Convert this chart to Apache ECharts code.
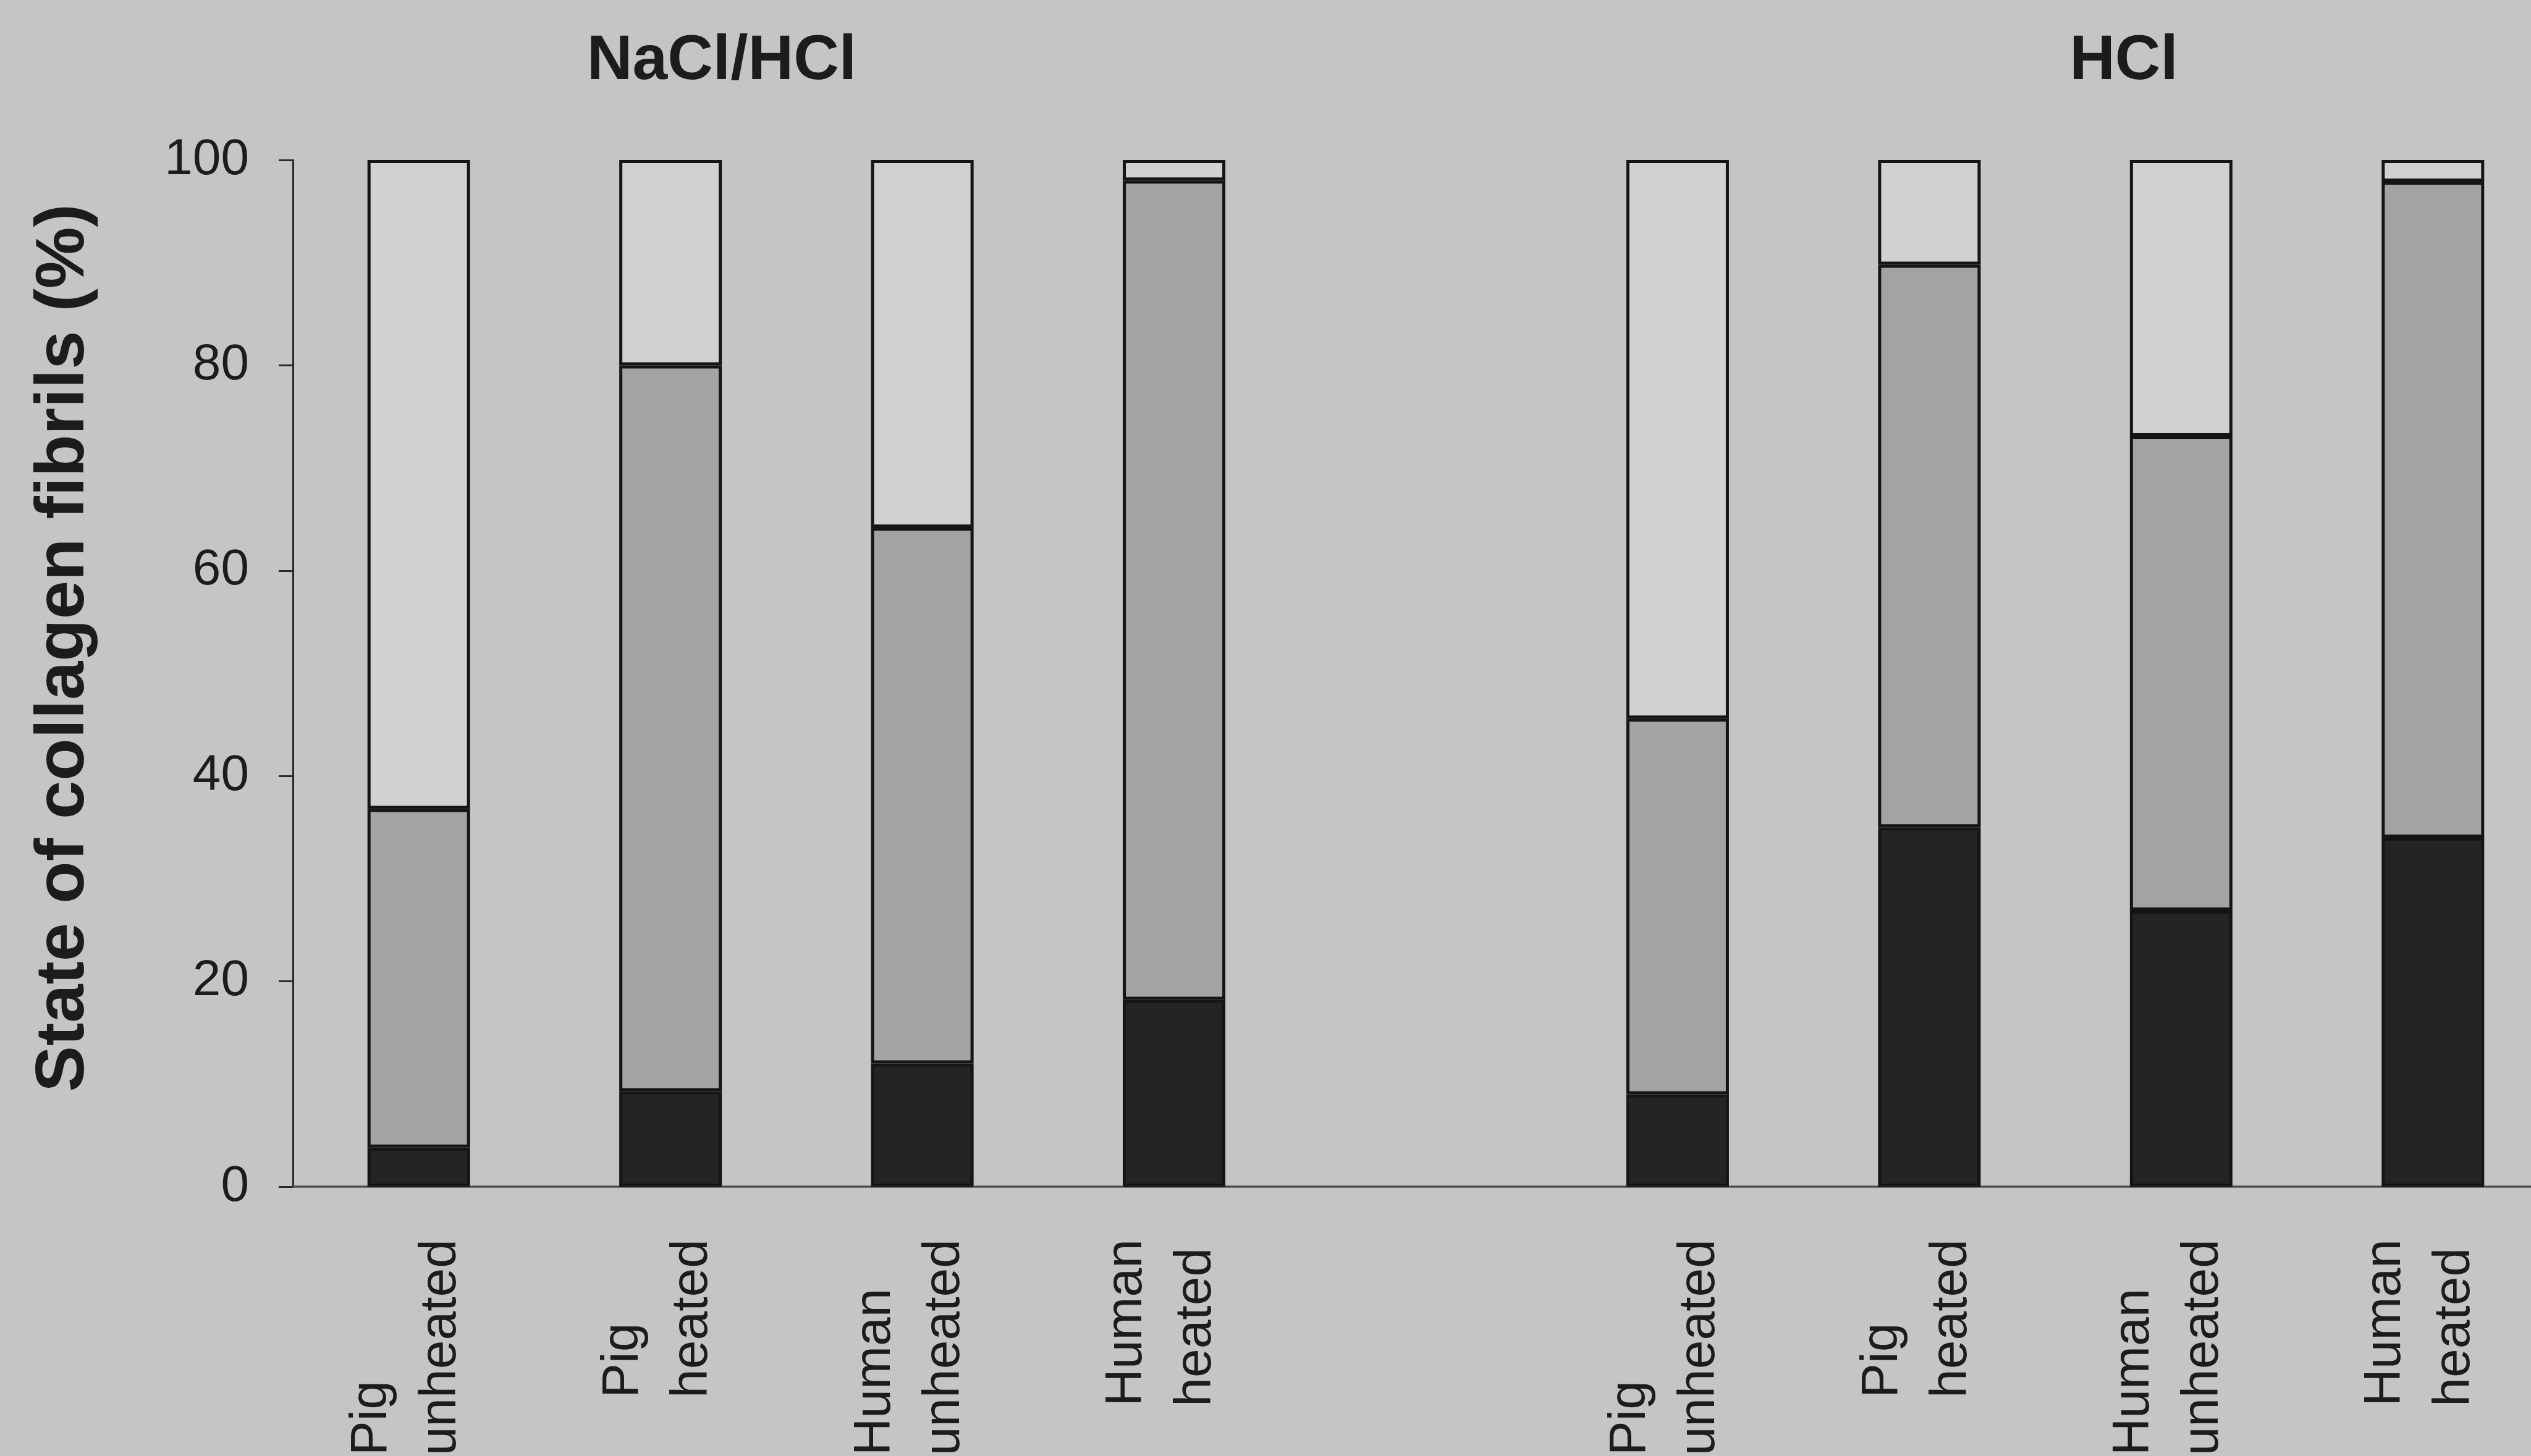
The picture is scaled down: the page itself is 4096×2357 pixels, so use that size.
<!DOCTYPE html>
<html><head><meta charset="utf-8">
<script src="https://cdn.jsdelivr.net/npm/echarts@6/dist/echarts.min.js"></script>
<style>html,body{margin:0;padding:0;background:#c5c5c4}#c{width:4096px;height:2357px}</style>
</head><body><div id="c"></div>
<script>
// ---- data ----
const categories = ['Pig\nunheated','Pig\nheated','Human\nunheated','Human\nheated','','Pig\nunheated','Pig\nheated','Human\nunheated','Human\nheated'];
const groupTitles = ['NaCl/HCl', 'HCl'];
const blackSegment = [3.8, 9.3, 12.0, 18.2, '-', 9.0, 35.0, 26.9, 34.0];
const greySegment  = [33.0, 70.7, 52.2, 79.8, '-', 36.6, 54.8, 46.2, 63.9];
const whiteSegment = [63.2, 20.0, 35.8, 2.0, '-', 54.4, 10.2, 26.9, 2.1];
const yAxisName = 'State of collagen fibrils (%)';
const yMin = 0, yMax = 100, yStep = 20;

// ---- chart ----
const FONT = '"Liberation Sans", Arial, Helvetica, sans-serif';
const chart = echarts.init(document.getElementById('c'), null, {renderer: 'canvas'});
const barStyle = (fill) => ({color: fill, borderColor: '#151515', borderWidth: 5});
const mk = (name, data, fill) => ({
  name, type: 'bar', stack: 'total', data, barWidth: 166,
  itemStyle: barStyle(fill), emphasis: {disabled: true}, silent: true
});
chart.setOption({
  backgroundColor: '#c5c5c4',
  animation: false,
  grid: {left: 474, top: 259, width: 3667, height: 1662, containLabel: false, outerBoundsMode: 'none'},
  xAxis: {
    type: 'category', data: categories,
    axisLine: {lineStyle: {color: '#505050', width: 3.5}},
    axisTick: {show: false},
    axisLabel: {
      interval: 0, rotate: 90, margin: 85, padding: [0, 0, 40, 0],
      formatter: v => v ? v.split('\n').map(p => '{a|' + p + '}').join('\n') : '',
      rich: {a: {align: 'left', fontSize: 84, lineHeight: 112, fontFamily: FONT, color: '#1c1c1c'}}
    }
  },
  yAxis: {
    type: 'value', min: yMin, max: yMax, interval: yStep,
    splitLine: {show: false},
    axisLine: {show: true, lineStyle: {color: '#2a2a2a', width: 3}},
    axisTick: {show: true, length: 23, lineStyle: {color: '#2a2a2a', width: 3}},
    axisLabel: {fontSize: 82, margin: 71, color: '#1c1c1c', fontFamily: FONT},
    name: yAxisName, nameLocation: 'middle', nameRotate: 90, nameGap: 314,
    nameTextStyle: {fontSize: 112, fontWeight: 'bold', color: '#1c1c1c', fontFamily: FONT, padding: [0, 0, 0, 82]}
  },
  graphic: [
    {type: 'text', x: 1168, y: 100, style: {text: groupTitles[0], fill: '#1c1c1c', font: 'bold 102px ' + FONT, textAlign: 'center', textVerticalAlign: 'middle'}},
    {type: 'text', x: 3437, y: 100, style: {text: groupTitles[1], fill: '#1c1c1c', font: 'bold 102px ' + FONT, textAlign: 'center', textVerticalAlign: 'middle'}}
  ],
  series: [
    mk('Black segment', blackSegment, '#242424'),
    mk('Grey segment', greySegment, '#a3a3a3'),
    mk('White segment', whiteSegment, '#d1d1d0')
  ]
});
</script></body></html>
